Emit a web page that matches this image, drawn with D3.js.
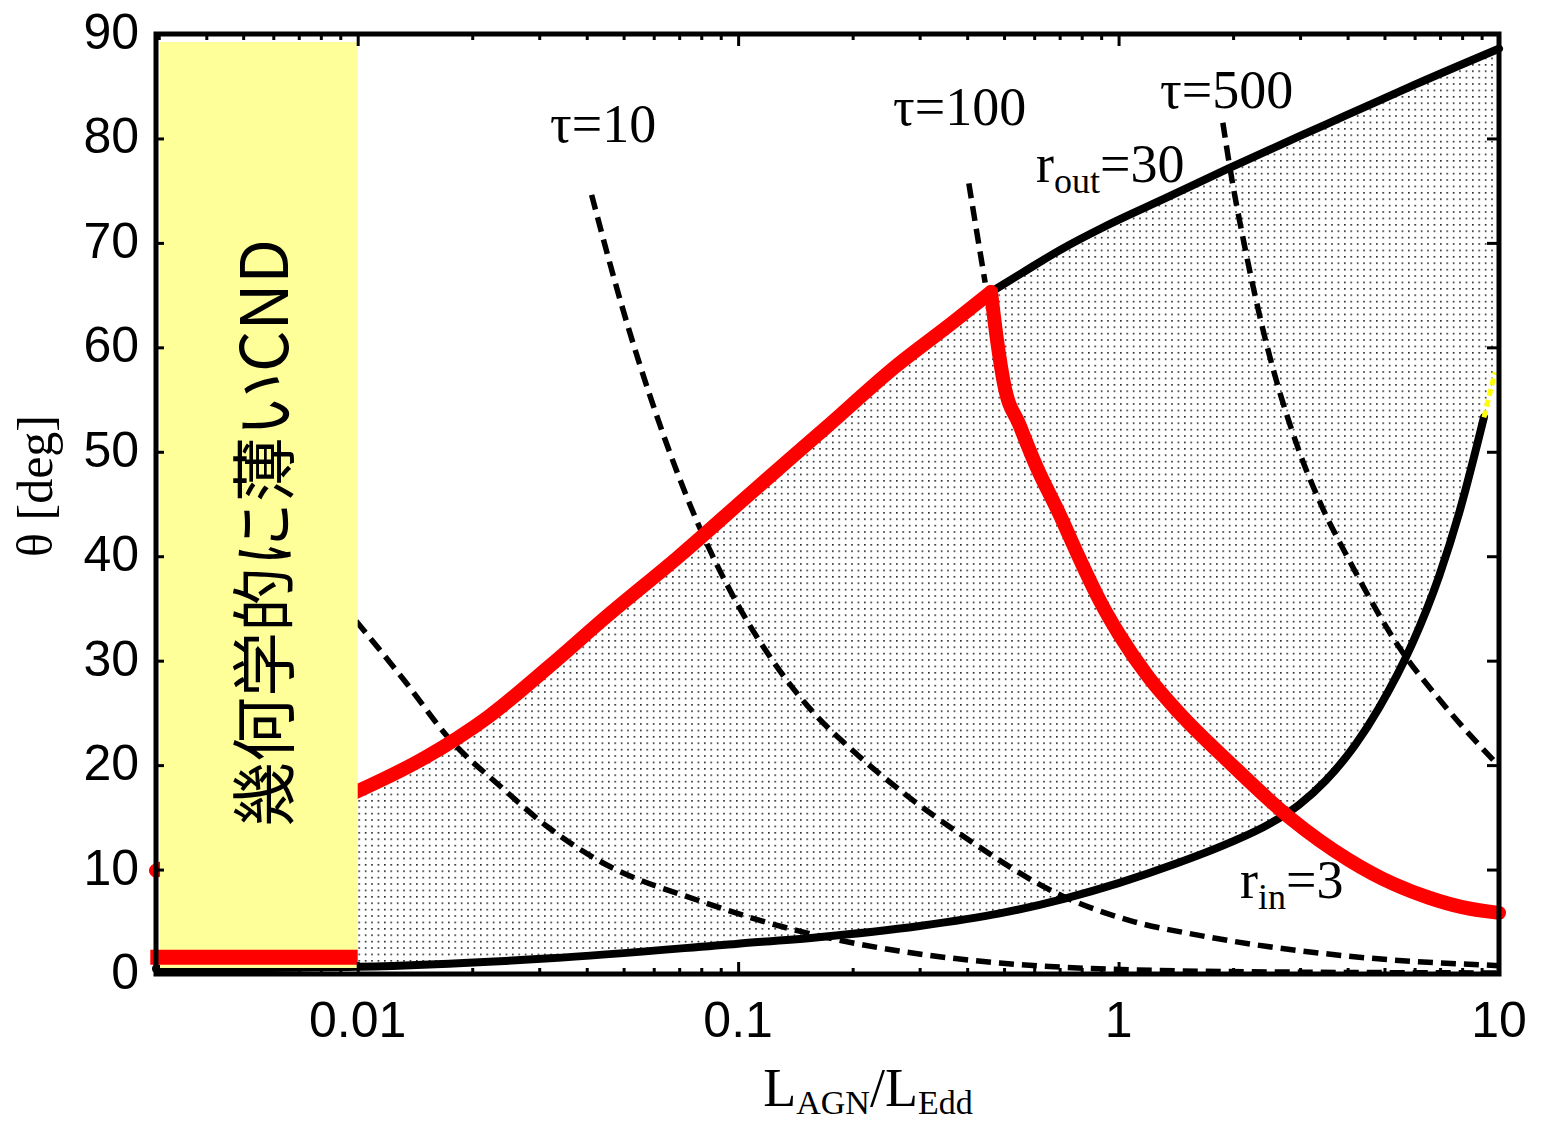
<!DOCTYPE html>
<html>
<head>
<meta charset="utf-8">
<script src="https://cdn.jsdelivr.net/npm/d3@7"></script>
<style>
  body { margin: 0; background: #fff; }
  svg { display: block; }
</style>
</head>
<body>
<svg id="chart" width="1545" height="1126"></svg>
<script>
// axis ticks
const xTickValues = [0.01, 0.1, 1, 10];
const xTickLabels = ["0.01", "0.1", "1", "10"];
const yTickValues = [0, 10, 20, 30, 40, 50, 60, 70, 80, 90];

// red curve (rising part then falling part), L_AGN/L_Edd vs theta
const redUpL = [0.00295, 0.006, 0.01, 0.015, 0.022, 0.032, 0.045, 0.07, 0.11, 0.17, 0.26, 0.37, 0.462];
const redUpT = [9.9, 14.2, 17.5, 20.7, 24.6, 29.5, 34.2, 40.0, 46.3, 52.3, 58.2, 62.5, 65.3];
const redDownL = [0.462, 0.48, 0.50, 0.55, 0.608, 0.7, 0.789, 0.9, 1.0, 1.2, 1.443, 1.95, 2.81, 4.04, 5.3, 6.55, 8.0, 10];
const redDownT = [65.3, 60.5, 56.5, 52.5, 48.6, 44.0, 39.8, 35.5, 32.6, 28.4, 25.0, 20.3, 15.0, 10.9, 8.6, 7.3, 6.4, 5.85];

// r_out = 30 (upper black)
const routL = [0.462, 0.562, 0.708, 0.912, 1.35, 1.94, 2.98, 3.96, 6.05, 10];
const routT = [65.3, 67.2, 69.4, 71.5, 74.4, 77.1, 80.2, 82.2, 85.2, 88.6];

// r_in = 3 (lower black)
const rinL = [0.00295, 0.01, 0.032, 0.1, 0.16, 0.3, 0.487, 0.718, 1.0, 1.4, 1.94, 2.5, 2.98, 3.5, 4.2, 4.84, 5.91, 6.96, 7.85, 9.13];
const rinT = [0.5, 0.7, 1.5, 2.9, 3.5, 4.6, 5.8, 7.2, 8.7, 10.5, 12.5, 14.4, 16.2, 18.5, 22.0, 25.5, 31.6, 38.1, 44.1, 53.3];
const rinExtL = [9.13, 9.76];
const rinExtT = [53.3, 57.6];

// dashed optical depth curves
const tauAL = [0.0099, 0.0132, 0.01734, 0.024, 0.0318, 0.0433, 0.0792, 0.145, 0.265, 0.487, 0.89, 2.5, 10];
const tauAT = [33.8, 28.2, 22.6, 17.8, 14.0, 10.8, 7.0, 4.1, 2.2, 1.05, 0.5, 0.2, 0.1];
const tau10L = [0.0412, 0.049, 0.0617, 0.0776, 0.1, 0.126, 0.158, 0.2, 0.275, 0.38, 0.718, 1.1, 1.63, 4.04, 10];
const tau10T = [74.6, 64.5, 53.0, 43.5, 35.3, 29.5, 25.0, 21.4, 17.2, 13.5, 7.4, 5.0, 3.7, 1.7, 0.8];
const tau100L = [0.404, 0.425, 0.446];
const tau100T = [75.7, 70.8, 66.2];
const tau500L = [1.88, 1.96, 2.15, 2.40, 2.98, 3.4, 4.04, 5.46, 7.0, 10];
const tau500T = [81.5, 77.3, 69.5, 61.6, 50.1, 45.0, 39.6, 31.3, 26.2, 19.9];

// red bar at the left
const barL = [0.00285, 0.01];
const barT = 1.6;

const zip = (a, b) => a.map((v, i) => [v, b[i]]);

const svg = d3.select("#chart");
const pLeft = 156, pRight = 1499, pTop = 34, pBottom = 974;

const x = d3.scaleLog().domain([0.00295, 10]).range([pLeft, pRight]);
const y = d3.scaleLinear().domain([0, 90]).range([pBottom, pTop]);

const defs = svg.append("defs");
defs.append("pattern")
  .attr("id", "dots")
  .attr("patternUnits", "userSpaceOnUse")
  .attr("width", 6.4)
  .attr("height", 6.4)
  .append("rect")
  .attr("width", 1.6)
  .attr("height", 1.6)
  .attr("fill", "#222");

const line = d3.line()
  .x(d => x(d[0]))
  .y(d => y(d[1]))
  .curve(d3.curveMonotoneX);

// shaded region between upper boundary and r_in
const upper = zip(redUpL, redUpT).concat(zip(routL, routT).slice(1));
const lower = zip(rinL, rinT).concat(zip(rinExtL, rinExtT).slice(1));
const lowerRev = lower.slice().reverse();
const shadePath = line(upper) + "L" + x(10) + "," + y(rinExtT[1]) + line(lowerRev).replace(/^M/, "L") + "Z";

svg.append("path")
  .attr("d", shadePath)
  .attr("fill", "url(#dots)")
  .attr("stroke", "none");

// dashed tau curves
[[tauAL, tauAT], [tau10L, tau10T], [tau100L, tau100T], [tau500L, tau500T]].forEach(([l, t]) => {
  svg.append("path")
    .attr("d", line(zip(l, t)))
    .attr("fill", "none")
    .attr("stroke", "#000")
    .attr("stroke-width", 5.5)
    .attr("stroke-dasharray", "15,8");
});

// solid black curves
svg.append("path")
  .attr("d", line(zip(routL, routT)))
  .attr("fill", "none")
  .attr("stroke", "#000")
  .attr("stroke-width", 8)
  .attr("stroke-linecap", "round");

svg.append("path")
  .attr("d", line(zip(rinL, rinT)))
  .attr("fill", "none")
  .attr("stroke", "#000")
  .attr("stroke-width", 8)
  .attr("stroke-linecap", "round");

svg.append("path")
  .attr("d", line(zip(rinExtL, rinExtT)))
  .attr("fill", "none")
  .attr("stroke", "#ffff00")
  .attr("stroke-width", 5)
  .attr("stroke-dasharray", "7,4");

// red curve
[[redUpL, redUpT], [redDownL, redDownT]].forEach(([l, t]) => {
  svg.append("path")
    .attr("d", line(zip(l, t)))
    .attr("fill", "none")
    .attr("stroke", "#ff0000")
    .attr("stroke-width", 14)
    .attr("stroke-linecap", "round")
    .attr("stroke-linejoin", "round");
});

// yellow box
svg.append("rect")
  .attr("x", 160)
  .attr("y", 42)
  .attr("width", x(0.01) - 160)
  .attr("height", 968 - 42)
  .attr("fill", "#ffff99");

svg.append("line")
  .attr("x1", x(barL[0]))
  .attr("x2", x(barL[1]))
  .attr("y1", y(barT))
  .attr("y2", y(barT))
  .attr("stroke", "#ff0000")
  .attr("stroke-width", 15);

svg.append("text")
  .attr("transform", `translate(260,533) rotate(-90)`)
  .attr("text-anchor", "middle")
  .attr("dominant-baseline", "central")
  .attr("font-family", "'Noto Sans CJK JP', sans-serif")
  .attr("font-size", 65)
  .attr("fill", "#000")
  .text("幾何学的に薄いCND");

// frame and ticks
const tickFmt = d => xTickLabels[xTickValues.indexOf(d)];
const minorX = x.ticks().filter(d => !xTickValues.includes(d) && d >= 0.003);

const axG = svg.append("g").attr("class", "axes");

function styleAxis(g) {
  g.select(".domain").remove();
  g.selectAll(".tick line").attr("stroke", "#000").attr("stroke-width", 3);
}

axG.append("g").attr("transform", `translate(0,${pBottom})`)
  .call(d3.axisBottom(x).tickValues(minorX).tickSize(-6).tickFormat(""))
  .call(styleAxis);
axG.append("g").attr("transform", `translate(0,${pBottom})`)
  .call(d3.axisBottom(x).tickValues(xTickValues).tickSize(-12).tickFormat(""))
  .call(styleAxis);
axG.append("g").attr("transform", `translate(0,${pTop})`)
  .call(d3.axisTop(x).tickValues(minorX).tickSize(-6).tickFormat(""))
  .call(styleAxis);
axG.append("g").attr("transform", `translate(0,${pTop})`)
  .call(d3.axisTop(x).tickValues(xTickValues).tickSize(-12).tickFormat(""))
  .call(styleAxis);
axG.append("g").attr("transform", `translate(${pLeft},0)`)
  .call(d3.axisLeft(y).tickValues(yTickValues).tickSize(-8).tickFormat(""))
  .call(styleAxis);
axG.append("g").attr("transform", `translate(${pRight},0)`)
  .call(d3.axisRight(y).tickValues(yTickValues).tickSize(-12).tickFormat(""))
  .call(styleAxis);

svg.append("rect")
  .attr("x", pLeft)
  .attr("y", pTop)
  .attr("width", pRight - pLeft)
  .attr("height", pBottom - pTop)
  .attr("fill", "none")
  .attr("stroke", "#000")
  .attr("stroke-width", 5);

// tick labels
svg.append("g").selectAll("text")
  .data(yTickValues)
  .join("text")
  .attr("x", 139)
  .attr("y", d => y(d) + 15)
  .attr("text-anchor", "end")
  .attr("font-family", "'Liberation Sans', Arial, sans-serif")
  .attr("font-size", 50)
  .text(d => d);

svg.append("g").selectAll("text")
  .data(xTickValues)
  .join("text")
  .attr("x", d => x(d))
  .attr("y", 1037)
  .attr("text-anchor", "middle")
  .attr("font-family", "'Liberation Sans', Arial, sans-serif")
  .attr("font-size", 50)
  .text(tickFmt);

// axis titles
const serif = "'Liberation Serif', 'Times New Roman', serif";
svg.append("text")
  .attr("transform", "translate(52,486) rotate(-90)")
  .attr("text-anchor", "middle")
  .attr("font-family", serif)
  .attr("font-size", 50)
  .text("θ [deg]");

const xt = svg.append("text")
  .attr("x", 868)
  .attr("y", 1106)
  .attr("text-anchor", "middle")
  .attr("font-family", serif)
  .attr("font-size", 54);
xt.append("tspan").text("L");
xt.append("tspan").attr("font-size", 34).attr("dy", 8).text("AGN");
xt.append("tspan").attr("dy", -8).text("/L");
xt.append("tspan").attr("font-size", 34).attr("dy", 8).text("Edd");

// curve annotations
const notes = [
  { x: 550, y: 142, main: "τ=10" },
  { x: 893, y: 125, main: "τ=100" },
  { x: 1160, y: 108, main: "τ=500" }
];
notes.forEach(n => {
  svg.append("text")
    .attr("x", n.x).attr("y", n.y)
    .attr("font-family", serif)
    .attr("font-size", 54)
    .text(n.main);
});

const subNotes = [
  { x: 1036, y: 182, a: "r", sub: "out", b: "=30" },
  { x: 1240, y: 898, a: "r", sub: "in", b: "=3" }
];
subNotes.forEach(n => {
  const t = svg.append("text")
    .attr("x", n.x).attr("y", n.y)
    .attr("font-family", serif)
    .attr("font-size", 54);
  t.append("tspan").text(n.a);
  t.append("tspan").attr("font-size", 36).attr("dy", 11).text(n.sub);
  t.append("tspan").attr("dy", -11).text(n.b);
});
</script>
</body>
</html>
